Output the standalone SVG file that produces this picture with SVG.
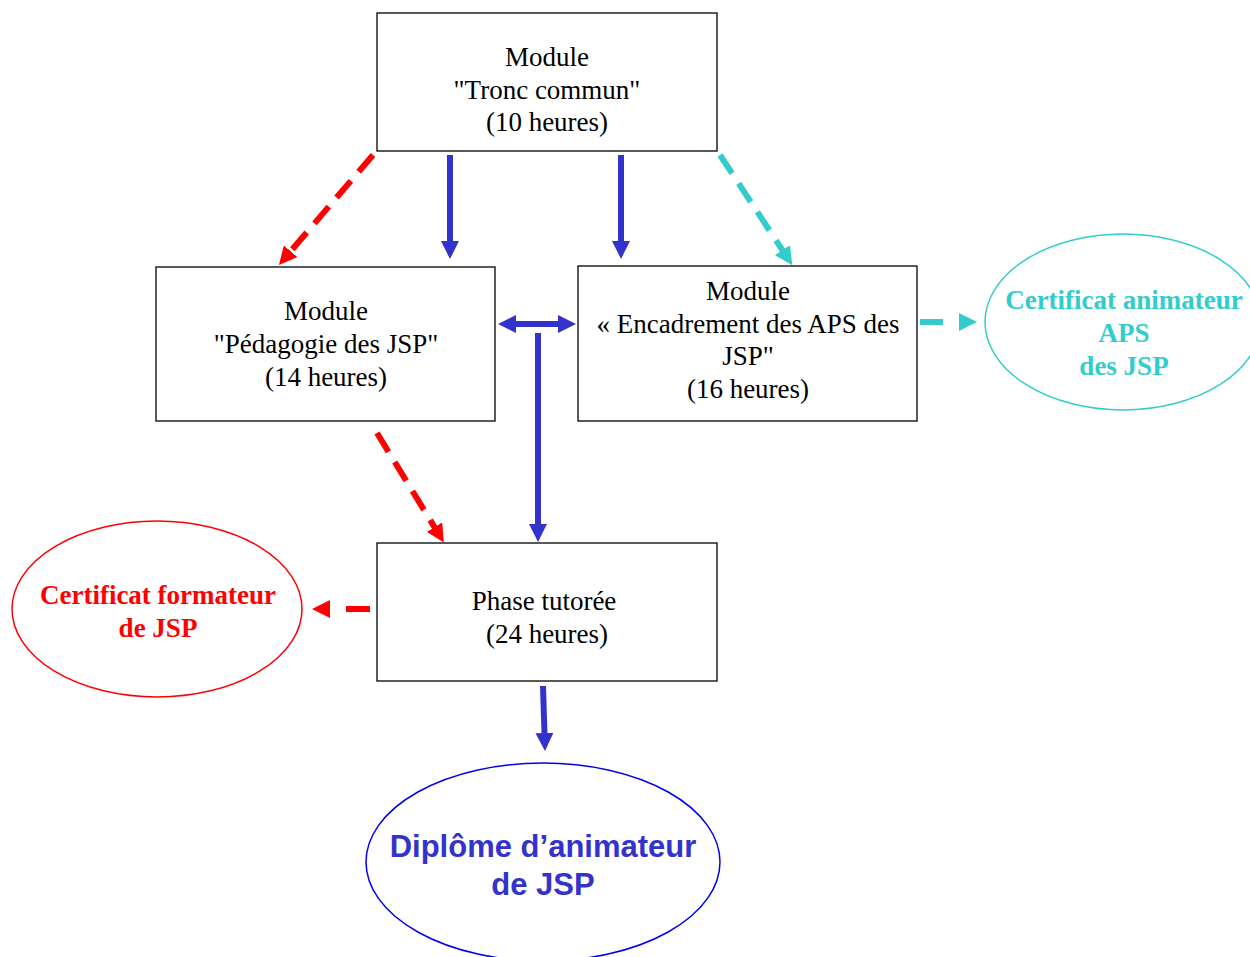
<svg xmlns="http://www.w3.org/2000/svg" width="1250" height="957" viewBox="0 0 1250 957">
<defs>
<style>
.box{fill:#fff;stroke:#000;stroke-width:1.3}
.t{font-family:"Liberation Serif","Times New Roman",serif;font-size:27px;fill:#000;text-anchor:middle}
.tb{font-family:"Liberation Serif","Times New Roman",serif;font-size:27px;font-weight:bold;text-anchor:middle}
.ta{font-family:"Liberation Sans",Arial,sans-serif;font-size:31px;font-weight:bold;text-anchor:middle;fill:#3333CC}
.blue{stroke:#3333CC;stroke-width:6;fill:none}
.red{stroke:#FF0000;stroke-width:6;fill:none;stroke-dasharray:22 12}
.cyan{stroke:#33CCCC;stroke-width:6;fill:none;stroke-dasharray:22 12}
</style>
<marker id="ab" viewBox="0 0 18 18" markerWidth="18" markerHeight="18" refX="1" refY="9" orient="auto-start-reverse" markerUnits="userSpaceOnUse"><path d="M0,0 L18,9 L0,18 z" fill="#3333CC"/></marker>
<marker id="ar" viewBox="0 0 18 18" markerWidth="18" markerHeight="18" refX="1" refY="9" orient="auto" markerUnits="userSpaceOnUse"><path d="M0,0 L18,9 L0,18 z" fill="#FF0000"/></marker>
<marker id="ac" viewBox="0 0 18 18" markerWidth="18" markerHeight="18" refX="1" refY="9" orient="auto" markerUnits="userSpaceOnUse"><path d="M0,0 L18,9 L0,18 z" fill="#33CCCC"/></marker>
</defs>
<rect width="1250" height="957" fill="#fff"/>
<g id="connectors">
<line class="red" x1="373" y1="155" x2="290" y2="252" marker-end="url(#ar)"/>
<line class="blue" x1="450" y1="155" x2="450" y2="242" marker-end="url(#ab)"/>
<line class="blue" x1="621" y1="155" x2="621" y2="242" marker-end="url(#ab)"/>
<line class="cyan" x1="720" y1="155" x2="783" y2="251" marker-end="url(#ac)"/>
<line class="blue" x1="515" y1="324" x2="559" y2="324" marker-start="url(#ab)" marker-end="url(#ab)"/>
<line class="blue" x1="538" y1="333" x2="538" y2="525" marker-end="url(#ab)"/>
<line class="red" x1="377" y1="433" x2="435" y2="528" marker-end="url(#ar)"/>
<line class="cyan" style="stroke-dasharray:23 30" x1="920" y1="322" x2="960" y2="322" marker-end="url(#ac)"/>
<line class="red" style="stroke-dasharray:24 30" x1="370" y1="609" x2="329" y2="609" marker-end="url(#ar)"/>
<line class="blue" x1="543" y1="686" x2="544.5" y2="734" marker-end="url(#ab)"/>
</g>
<g id="tronc">
<rect class="box" x="377" y="13" width="340" height="138"/>
<text class="t" x="547" y="66">Module</text>
<text class="t" x="547" y="99">"Tronc commun"</text>
<text class="t" x="547" y="131">(10 heures)</text>
</g>
<g id="pedagogie">
<rect class="box" x="156" y="267" width="339" height="154"/>
<text class="t" x="326" y="320">Module</text>
<text class="t" x="326" y="353">"Pédagogie des JSP"</text>
<text class="t" x="326" y="386">(14 heures)</text>
</g>
<g id="encadrement">
<rect class="box" x="578" y="266" width="339" height="155"/>
<text class="t" x="748" y="300">Module</text>
<text class="t" x="748" y="333">« Encadrement des APS des</text>
<text class="t" x="748" y="365">JSP"</text>
<text class="t" x="748" y="398">(16 heures)</text>
</g>
<g id="phase">
<rect class="box" x="377" y="543" width="340" height="138"/>
<text class="t" x="544" y="610">Phase tutorée</text>
<text class="t" x="547" y="643">(24 heures)</text>
</g>
<g id="certif-animateur">
<ellipse cx="1123" cy="322" rx="138" ry="88" fill="none" stroke="#33CCCC" stroke-width="1.5"/>
<text class="tb" fill="#33CCCC" x="1124" y="309">Certificat animateur</text>
<text class="tb" fill="#33CCCC" x="1124" y="342">APS</text>
<text class="tb" fill="#33CCCC" x="1124" y="375">des JSP</text>
</g>
<g id="certif-formateur">
<ellipse cx="157" cy="609" rx="145" ry="88" fill="none" stroke="#FF0000" stroke-width="1.5"/>
<text class="tb" fill="#FF0000" x="158" y="604">Certificat formateur</text>
<text class="tb" fill="#FF0000" x="158" y="637">de JSP</text>
</g>
<g id="diplome">
<ellipse cx="543" cy="862" rx="177" ry="99" fill="none" stroke="#0000EE" stroke-width="1.5"/>
<text class="ta" x="543" y="857">Diplôme d’animateur</text>
<text class="ta" x="543" y="895">de JSP</text>
</g>
</svg>
